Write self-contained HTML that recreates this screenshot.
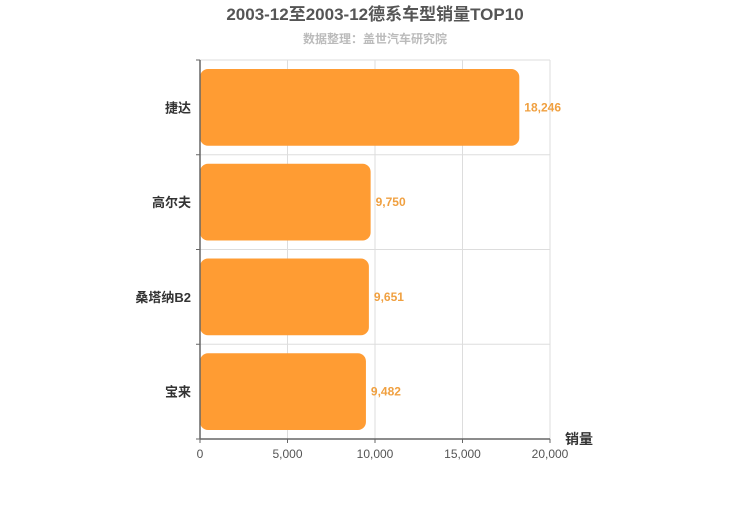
<!DOCTYPE html>
<html><head><meta charset="utf-8"><style>
body{margin:0;background:#fff;}
svg{font-family:"Liberation Sans","Noto Sans CJK SC",sans-serif;}
</style></head><body>
<svg width="750" height="500">
<text x="375" y="20" text-anchor="middle" font-size="17" font-weight="bold" fill="#555">2003-12至2003-12德系车型销量TOP10</text>
<text x="375" y="43" text-anchor="middle" font-size="12" font-weight="bold" fill="#bbb">数据整理：盖世汽车研究院</text>
<g id="grid"></g><g id="bars"></g><g id="axes"></g>
</svg>
<script>
const categories=["捷达","高尔夫","桑塔纳B2","宝来"];
const values=[18246,9750,9651,9482];
const ticks=[0,5000,10000,15000,20000];
const NS="http://www.w3.org/2000/svg";
const x0=200,x1=550,y0=60,y1=439,maxV=20000;
const xs=v=>x0+(v/maxV)*(x1-x0);
const band=(y1-y0)/categories.length;
function mk(t,a,p){const e=document.createElementNS(NS,t);for(const k in a)e.setAttribute(k,a[k]);p.appendChild(e);return e;}
const grid=document.getElementById('grid'),bars=document.getElementById('bars'),axes=document.getElementById('axes');
ticks.forEach(t=>{
 const l=mk('line',{x1:xs(t),x2:xs(t),y1:y0,y2:y1,stroke:'#ddd'},grid);
 
 
 const tk=mk('line',{x1:xs(t),x2:xs(t),y1:y1,y2:y1+4,stroke:'#666'},axes);
 
 
 const tx=mk('text',{x:xs(t),y:y1+19,'text-anchor':'middle','font-size':12,fill:'#555'},axes);
 tx.textContent=t.toLocaleString('en-US');
 
 
});
for(let i=0;i<=categories.length;i++){
 const y=y0+i*band;
 const l=mk('line',{x1:x0,x2:x1,y1:y,y2:y,stroke:'#ddd'},grid);
 
 
 const tk=mk('line',{x1:x0-4,x2:x0,y1:y,y2:y,stroke:'#666'},axes);
 
 
}
categories.forEach((c,i)=>{
 const yb=y0+i*band+9,h=band-18;
 const r=mk('rect',{x:x0,y:yb,width:xs(values[i])-x0,height:h,rx:8,fill:'#ff9c33'},bars);
 
 
 const vl=mk('text',{x:xs(values[i])+5,y:yb+h/2+4,'font-size':12,'font-weight':'bold',fill:'#f0a040'},bars);
 vl.textContent=values[i].toLocaleString('en-US');
 
 
 const cl=mk('text',{x:x0-9,y:yb+h/2+5,'text-anchor':'end','font-size':13,'font-weight':'bold',fill:'#333'},axes);
 cl.textContent=c;
 
 
});
const ax=mk('line',{x1:x0,x2:x1,y1:y1,y2:y1,stroke:'#666','stroke-width':1.5},axes);


const ay=mk('line',{x1:x0,x2:x0,y1:y0,y2:y1,stroke:'#666','stroke-width':1.5},axes);


const at=mk('text',{x:565,y:444,'font-size':14,'font-weight':'bold',fill:'#333'},axes);
at.textContent='销量';


</script>
</body></html>
